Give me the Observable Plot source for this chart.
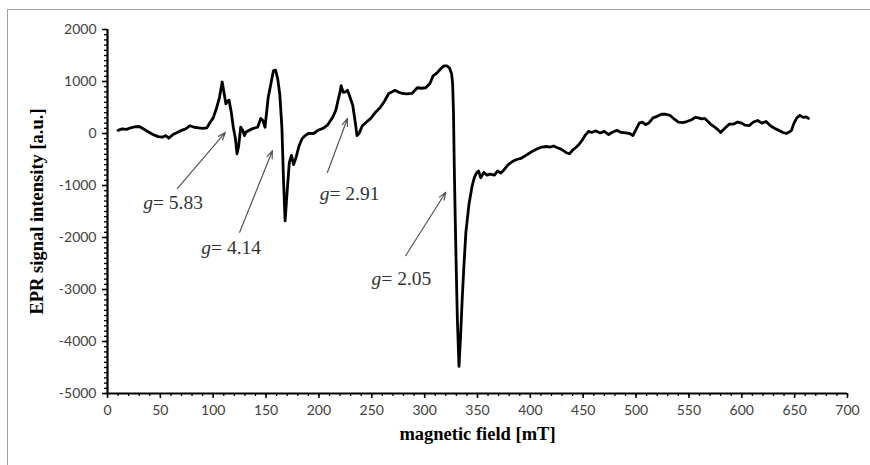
<!DOCTYPE html>
<html>
<head>
<meta charset="utf-8">
<script src="https://cdn.jsdelivr.net/npm/d3@7"></script>
<script src="https://cdn.jsdelivr.net/npm/@observablehq/plot@0.6"></script>
<style>
  html, body { margin: 0; padding: 0; background: #fff; }
  #wrap { position: relative; width: 870px; height: 465px; overflow: hidden; }
  #frame { position: absolute; left: 7px; top: 9px; width: 900px; height: 500px;
           border-top: 1.5px solid #a0a0a0; border-left: 1.5px solid #a0a0a0; box-sizing: border-box; }
  #chart { position: absolute; left: 0; top: 0; }
</style>
</head>
<body>
<div id="wrap"><div id="frame"></div><div id="chart"></div></div>
<script>
// magnetic field [mT]
const field = [10, 14, 18, 22, 26, 30, 33, 38, 43, 48, 52, 55, 58, 62, 66, 70, 74, 78, 82, 86, 90, 94, 97, 100, 103, 106, 108.5, 110.5, 112, 113.5, 115, 117, 119, 121, 122.5, 124, 126, 128, 129.5, 131, 134, 138, 142, 145, 147, 149, 152, 154.5, 157, 159, 161, 163, 165, 166.5, 168, 170, 172, 174, 176, 178.5, 181, 184, 187, 190, 195, 199, 204, 208, 213, 216, 218, 220, 221, 222, 223, 225, 227, 229, 232, 234.5, 236, 238, 241, 245, 249, 254, 258, 262, 266, 269, 272, 276, 279, 283, 288, 293, 297, 301, 305, 308, 312, 315, 318, 321, 323.5, 325.5, 326.5, 327.3, 328, 329, 330, 331, 332.5, 334, 335.5, 337, 339, 342, 345, 347, 349, 351, 353, 356, 359, 362, 366, 369, 372, 375, 379, 383, 387, 391, 395, 399, 403, 407, 411, 415, 419, 422, 425, 429, 432, 434, 437, 440, 443, 446, 449, 452, 455, 458, 462, 466, 470, 474, 478, 482, 486, 490, 494, 497, 500, 503, 506, 509, 512, 516, 520, 524, 528, 532, 536, 540, 544, 548, 552, 556, 559, 562, 565, 568, 571, 574, 577, 580, 584, 588, 592, 596, 600, 603, 607, 611, 615, 619, 623, 627, 631, 635, 639, 642, 645, 647, 649, 652, 655, 658, 661, 663];
// EPR signal intensity [a.u.]
const intensity = [60, 90, 80, 110, 130, 135, 100, 40, -20, -60, -70, -40, -90, -20, 20, 60, 90, 150, 120, 110, 100, 110, 210, 300, 480, 700, 990, 750, 570, 620, 640, 420, 120, -100, -390, -250, 120, 60, -40, 30, 60, 100, 120, 290, 250, 120, 690, 950, 1210, 1220, 1050, 750, 100, -900, -1680, -1100, -560, -420, -600, -450, -250, -100, -40, 0, 0, 60, 100, 160, 310, 450, 630, 800, 920, 850, 790, 800, 830, 720, 540, 200, -40, 0, 150, 220, 290, 420, 500, 620, 770, 800, 830, 790, 770, 760, 770, 880, 870, 880, 960, 1110, 1170, 1240, 1300, 1300, 1260, 1150, 950, 400, -600, -1700, -2700, -3600, -4480, -3900, -3200, -2600, -1900, -1350, -1000, -850, -760, -720, -850, -750, -800, -780, -800, -720, -760, -700, -600, -540, -500, -480, -430, -380, -330, -290, -260, -250, -260, -240, -270, -300, -340, -370, -390, -320, -270, -210, -130, -30, 40, 20, 50, 10, 40, -20, 30, 60, 20, 10, 0, -40, 80, 200, 220, 170, 200, 300, 330, 370, 370, 350, 280, 220, 210, 230, 260, 310, 300, 280, 290, 230, 170, 130, 80, 20, 100, 180, 180, 220, 200, 160, 150, 220, 250, 200, 230, 150, 100, 60, 20, 0, 30, 60, 180, 300, 350, 310, 320, 290, 270];

const xTicks = [0, 50, 100, 150, 200, 250, 300, 350, 400, 450, 500, 550, 600, 650, 700];
const yTicks = [-5000, -4000, -3000, -2000, -1000, 0, 1000, 2000];
const xTitle = "magnetic field [mT]";
const yTitle = "EPR signal intensity [a.u.]";

// annotations: g-values, text anchor and arrow (data units)
const gLabels = ["g= 5.83", "g= 4.14", "g= 2.91", "g= 2.05"];
const gTextX = [62, 117, 229, 278];
const gTextY = [-1330, -2200, -1150, -2790];
const gArrowX1 = [66, 125, 208, 282];
const gArrowY1 = [-1060, -1900, -750, -2350];
const gArrowX2 = [111.5, 156, 227, 320];
const gArrowY2 = [20, -330, 290, -1130];

const data = field.map((x, i) => ({x, y: intensity[i]}));
const annots = gLabels.map((label, i) => ({
  label, tx: gTextX[i], ty: gTextY[i],
  x1: gArrowX1[i], y1: gArrowY1[i], x2: gArrowX2[i], y2: gArrowY2[i]
}));

const tickFont = "Lato, 'Open Sans', sans-serif";
const serif = "'Liberation Serif', 'DejaVu Serif', serif";

const chart = Plot.plot({
  width: 870,
  height: 465,
  marginLeft: 107,
  marginRight: 23,
  marginTop: 29,
  marginBottom: 72,
  style: {background: "transparent", fontFamily: tickFont, fontSize: "14px", color: "#404040"},
  x: {domain: [0, 700]},
  y: {domain: [-5000, 2000]},
  marks: [
    Plot.axisY({ticks: d3.range(-5000, 2001, 100), tickSize: 3, text: null, label: null, stroke: "#000", strokeWidth: 1.3}),
    Plot.axisY({ticks: yTicks, tickSize: 5, tickPadding: 6, tickFormat: d => String(d), label: null, stroke: "#000", strokeWidth: 1.5, fill: "#404040"}),
    Plot.axisX({ticks: d3.range(0, 701, 10), tickSize: 3, text: null, label: null, stroke: "#000", strokeWidth: 1.3}),
    Plot.axisX({ticks: xTicks, tickSize: 5, tickPadding: 7, tickFormat: d => String(d), label: null, stroke: "#000", strokeWidth: 1.5, fill: "#404040"}),
    Plot.ruleX([0], {stroke: "#000", strokeWidth: 2.2}),
    Plot.ruleY([-5000], {stroke: "#000", strokeWidth: 2.2}),
    Plot.line(data, {x: "x", y: "y", stroke: "#000", strokeWidth: 2.8, strokeLinejoin: "round", strokeLinecap: "round"}),
    Plot.arrow(annots, {x1: "x1", y1: "y1", x2: "x2", y2: "y2", stroke: "#555", strokeWidth: 1.2, headLength: 10, headAngle: 40}),
    Plot.text(annots, {x: "tx", y: "ty", text: "label", fontFamily: serif, fontSize: 19.5, fill: "#333", className: "glabel"}),
    Plot.text([xTitle], {frameAnchor: "bottom", dy: 46, text: d => d, fontFamily: serif, fontWeight: "bold", fontSize: 18.5, fill: "#000"}),
    Plot.text([yTitle], {frameAnchor: "left", dx: -70, rotate: -90, textAnchor: "middle", text: d => d, fontFamily: serif, fontWeight: "bold", fontSize: 18.5, fill: "#000"})
  ]
});

d3.select(chart).selectAll("g.glabel text").each(function() {
  const t = this.textContent;
  const rest = t.slice(1);
  const el = d3.select(this);
  el.text(null);
  el.append("tspan").attr("font-style", "italic").text("g");
  el.append("tspan").text(rest);
});

document.getElementById("chart").appendChild(chart);
</script>
</body>
</html>
